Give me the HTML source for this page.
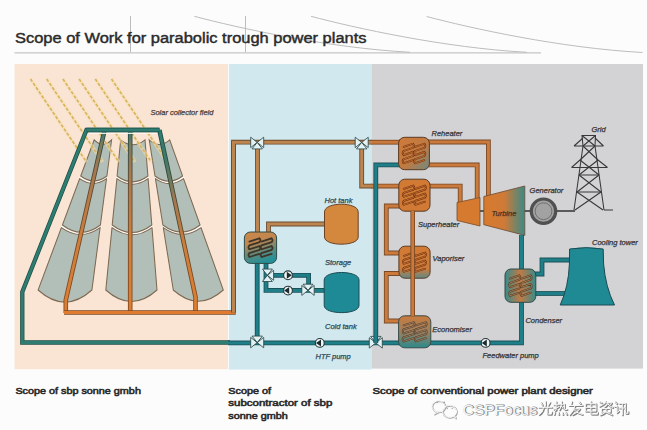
<!DOCTYPE html><html><head><meta charset="utf-8"><style>
html,body{margin:0;padding:0;background:#fcfcfc;}
body{width:647px;height:430px;overflow:hidden;position:relative;font-family:"Liberation Sans",sans-serif;}
svg{position:absolute;left:0;top:0;}
</style></head><body>
<svg width="647" height="430" viewBox="0 0 647 430" font-family="Liberation Sans, sans-serif">
<defs>
<linearGradient id="gHXa" x1="0.2" y1="0" x2="0.5" y2="1"><stop offset="0" stop-color="#cc884a"/><stop offset="0.35" stop-color="#c08650"/><stop offset="0.7" stop-color="#5a8a80"/><stop offset="1" stop-color="#229098"/></linearGradient>
<linearGradient id="gRe" x1="0" y1="0" x2="1" y2="1"><stop offset="0" stop-color="#cf7a38"/><stop offset="0.55" stop-color="#c07a42"/><stop offset="1" stop-color="#6f8a84"/></linearGradient>
<linearGradient id="gSup" x1="0" y1="0" x2="0" y2="1"><stop offset="0" stop-color="#d27a34"/><stop offset="1" stop-color="#d07a36"/></linearGradient>
<linearGradient id="gVap" x1="0" y1="0" x2="0" y2="1"><stop offset="0" stop-color="#d27a34"/><stop offset="0.7" stop-color="#cd7c3c"/><stop offset="1" stop-color="#5f8a86"/></linearGradient>
<linearGradient id="gEco" x1="0" y1="0" x2="0" y2="1"><stop offset="0" stop-color="#c97b3e"/><stop offset="0.5" stop-color="#9c8060"/><stop offset="1" stop-color="#2a8a8c"/></linearGradient>
<linearGradient id="gCon" x1="0" y1="0" x2="1" y2="0"><stop offset="0" stop-color="#3a8a8a"/><stop offset="0.5" stop-color="#c07a45"/><stop offset="1" stop-color="#3a8a8a"/></linearGradient>
<linearGradient id="gLP" x1="0" y1="0" x2="1" y2="0"><stop offset="0" stop-color="#d87a2e"/><stop offset="0.5" stop-color="#cf7a38"/><stop offset="1" stop-color="#3a8a86"/></linearGradient>
<linearGradient id="gCol1" gradientUnits="userSpaceOnUse" x1="0" y1="130" x2="0" y2="300"><stop offset="0" stop-color="#2a7a74"/><stop offset="0.08" stop-color="#7a7a5e"/><stop offset="0.25" stop-color="#a8784e"/><stop offset="0.65" stop-color="#d07e3a"/><stop offset="1" stop-color="#da7e34"/></linearGradient>
<linearGradient id="gCol1d" gradientUnits="userSpaceOnUse" x1="0" y1="130" x2="0" y2="300"><stop offset="0" stop-color="#1e4e4a"/><stop offset="0.3" stop-color="#5a4a36"/><stop offset="1" stop-color="#8a4a1c"/></linearGradient>
<linearGradient id="gCol3" gradientUnits="userSpaceOnUse" x1="0" y1="130" x2="0" y2="300"><stop offset="0" stop-color="#2e7d70"/><stop offset="0.18" stop-color="#3e7a6a"/><stop offset="0.4" stop-color="#a07850"/><stop offset="0.7" stop-color="#d07e3a"/><stop offset="1" stop-color="#da7e34"/></linearGradient>
<linearGradient id="gCol3d" gradientUnits="userSpaceOnUse" x1="0" y1="130" x2="0" y2="300"><stop offset="0" stop-color="#1e4e48"/><stop offset="0.3" stop-color="#3a4a3a"/><stop offset="1" stop-color="#8a4a1c"/></linearGradient>
</defs>

<g stroke="#bdbdbd" stroke-width="1" fill="none">
<line x1="14.5" y1="52.9" x2="541" y2="52.9" stroke="#c6c6c6" stroke-width="1.4"/>
<line x1="130.5" y1="16" x2="130.5" y2="52.5"/>
<line x1="245.5" y1="16" x2="245.5" y2="52.5"/>
<path d="M194.3,16.3 C237.60000000000002,27.8 327.6,47.8 410.1,52.3"/>
<path d="M311,16.3 C354.3,27.8 444.3,47.8 526.8,52.3"/>
<path d="M426.7,16.5 C470.0,28.0 560.0,48.0 642.5,52.5"/>
</g>
<text x="15" y="42.6" font-size="14" font-weight="normal" fill="#2a2a2a" stroke="#2a2a2a" stroke-width="0.42" textLength="351.5" lengthAdjust="spacingAndGlyphs">Scope of Work for parabolic trough power plants</text>
<rect x="14.5" y="64" width="214" height="305.2" fill="#fae5d5"/>
<rect x="228.5" y="64" width="143" height="305.6" fill="#d0e8ee"/>
<rect x="371.5" y="64" width="271.5" height="304.6" fill="#d3d3d6"/>
<rect x="228" y="64" width="1.1" height="306" fill="#f8fbf8"/>
<text x="150.5" y="115" font-size="7.45" font-style="italic" fill="#463c34" stroke="#463c34" stroke-width="0.25" text-anchor="start">Solar collector field</text>
<path d="M79.2,177.3 Q93.4,187.1 107.7,177.3" fill="none" stroke="#fffaf5" stroke-width="3"/>
<path d="M60.9,226.3 Q81.1,240.5 101.3,226.3" fill="none" stroke="#fffaf5" stroke-width="3"/>
<path d="M94.2,139.8 Q102.9,148.6 111.6,139.8 L106.9,176.0 Q93.8,185.9 80.7,176.0 Z" fill="#b2beb8" stroke="#7e6a52" stroke-width="1.05"/>
<path d="M79.7,178.6 Q93.1,188.2 106.5,178.6 L100.4,225.0 Q81.4,239.5 62.4,225.0 Z" fill="#b2beb8" stroke="#7e6a52" stroke-width="1.05"/>
<path d="M61.4,227.6 Q80.7,241.5 100.1,227.6 L91.9,290.0 Q65.0,314.2 38.1,290.0 Z" fill="#b2beb8" stroke="#7e6a52" stroke-width="1.05"/>
<path d="M116.0,177.3 Q132.5,188.8 149.0,177.3" fill="none" stroke="#fffaf5" stroke-width="3"/>
<path d="M111.1,226.3 Q132.0,241.0 152.9,226.3" fill="none" stroke="#fffaf5" stroke-width="3"/>
<path d="M120.7,139.8 Q132.8,149.7 145.0,139.8 L147.9,176.0 Q132.5,187.7 117.1,176.0 Z" fill="#b2beb8" stroke="#7e6a52" stroke-width="1.05"/>
<path d="M116.9,178.6 Q132.5,189.8 148.1,178.6 L151.8,225.0 Q132.0,240.0 112.2,225.0 Z" fill="#b2beb8" stroke="#7e6a52" stroke-width="1.05"/>
<path d="M112.0,227.6 Q132.0,242.0 152.0,227.6 L157.0,290.0 Q131.4,313.0 105.8,290.0 Z" fill="#b2beb8" stroke="#7e6a52" stroke-width="1.05"/>
<path d="M154.2,177.3 Q169.1,187.6 184.1,177.3" fill="none" stroke="#fffaf5" stroke-width="3"/>
<path d="M162.1,226.3 Q181.8,240.2 201.6,226.3" fill="none" stroke="#fffaf5" stroke-width="3"/>
<path d="M149.2,139.8 Q159.4,149.1 169.7,139.8 L182.6,176.0 Q168.8,186.5 155.0,176.0 Z" fill="#b2beb8" stroke="#7e6a52" stroke-width="1.05"/>
<path d="M155.4,178.6 Q169.5,188.7 183.5,178.6 L200.1,225.0 Q181.5,239.1 162.9,225.0 Z" fill="#b2beb8" stroke="#7e6a52" stroke-width="1.05"/>
<path d="M163.3,227.6 Q182.2,241.2 201.0,227.6 L223.3,290.0 Q198.3,312.5 173.3,290.0 Z" fill="#b2beb8" stroke="#7e6a52" stroke-width="1.05"/>
<g stroke="#f4dfae" stroke-width="3.4" fill="none" opacity="0.6">
<line x1="30.5" y1="79" x2="86.5" y2="162"/>
<line x1="46.7" y1="79" x2="102.7" y2="162"/>
<line x1="62.9" y1="79" x2="118.9" y2="162"/>
<line x1="79.1" y1="79" x2="135.1" y2="162"/>
<line x1="95.3" y1="79" x2="151.3" y2="162"/>
<line x1="111.5" y1="79" x2="167.5" y2="162"/>
</g>
<g stroke="#d9b25c" stroke-width="1.6" stroke-dasharray="3.2 1.8" fill="none" opacity="1">
<line x1="30.5" y1="79" x2="86.5" y2="162"/>
<line x1="46.7" y1="79" x2="102.7" y2="162"/>
<line x1="62.9" y1="79" x2="118.9" y2="162"/>
<line x1="79.1" y1="79" x2="135.1" y2="162"/>
<line x1="95.3" y1="79" x2="151.3" y2="162"/>
<line x1="111.5" y1="79" x2="167.5" y2="162"/>
</g>
<path d="M230,342.5 L22.3,342.5 L22.3,292 L86.5,130 L159.4,130" fill="none" stroke="#1e4e48" stroke-width="4.3" stroke-linejoin="miter" stroke-linecap="butt"/>
<path d="M230,342.5 L22.3,342.5 L22.3,292 L86.5,130 L159.4,130" fill="none" stroke="#2e7d70" stroke-width="2.8" stroke-linejoin="miter" stroke-linecap="butt"/>
<path d="M104.6,130 L65.8,300 L65.8,313" fill="none" stroke="url(#gCol1d)" stroke-width="4.6"/>
<path d="M104.6,130 L65.8,300 L65.8,313" fill="none" stroke="url(#gCol1)" stroke-width="2.8"/>
<path d="M130.2,130 L130.2,313" fill="none" stroke="url(#gCol1d)" stroke-width="4.6"/>
<path d="M130.2,130 L130.2,313" fill="none" stroke="url(#gCol1)" stroke-width="2.8"/>
<path d="M159.4,130 L195.5,297 L195.5,313" fill="none" stroke="url(#gCol3d)" stroke-width="4.6"/>
<path d="M159.4,130 L195.5,297 L195.5,313" fill="none" stroke="url(#gCol3)" stroke-width="2.8"/>
<path d="M86.5,130 L159.4,130" fill="none" stroke="#1e4e48" stroke-width="4.3" stroke-linejoin="miter" stroke-linecap="butt"/>
<path d="M86.5,130 L159.4,130" fill="none" stroke="#2e7d70" stroke-width="2.8" stroke-linejoin="miter" stroke-linecap="butt"/>
<path d="M20.5,342 M88.8,133.4 L157.2,133.4" fill="none" stroke="#fff8f2" stroke-width="1.3" opacity="0.9"/>
<path d="M64,312.5 L233.5,312.5 L233.5,142" fill="none" stroke="#7a4a26" stroke-width="4.4" stroke-linejoin="miter" stroke-linecap="butt"/>
<path d="M64,312.5 L233.5,312.5 L233.5,142" fill="none" stroke="#e07a2e" stroke-width="2.8" stroke-linejoin="miter" stroke-linecap="butt"/>
<path d="M399,142.2 L371.5,142.2" fill="none" stroke="#7a4a26" stroke-width="4.8" stroke-linejoin="miter" stroke-linecap="butt"/>
<path d="M399,142.2 L371.5,142.2" fill="none" stroke="#cc7a3c" stroke-width="3.0" stroke-linejoin="miter" stroke-linecap="butt"/>
<path d="M233.5,312.5 L233.5,142.2 L372,142.2" fill="none" stroke="#6a4a2c" stroke-width="4.8" stroke-linejoin="miter" stroke-linecap="butt"/>
<path d="M233.5,312.5 L233.5,142.2 L372,142.2" fill="none" stroke="#bd8550" stroke-width="3.0" stroke-linejoin="miter" stroke-linecap="butt"/>
<path d="M257.5,142 L257.5,234" fill="none" stroke="#6a4a2c" stroke-width="4.8" stroke-linejoin="miter" stroke-linecap="butt"/>
<path d="M257.5,142 L257.5,234" fill="none" stroke="#bd8550" stroke-width="3.0" stroke-linejoin="miter" stroke-linecap="butt"/>
<path d="M268.5,234 L268.5,224 L325,224" fill="none" stroke="#6a4a2c" stroke-width="4.8" stroke-linejoin="miter" stroke-linecap="butt"/>
<path d="M268.5,234 L268.5,224 L325,224" fill="none" stroke="#bd8550" stroke-width="3.0" stroke-linejoin="miter" stroke-linecap="butt"/>
<path d="M324.5,212 C324.5,201.6 358.2,201.6 358.2,212 L358.2,237 C358.2,246.6 324.5,246.6 324.5,237 Z" fill="#d4883e" stroke="#6a4226" stroke-width="1"/>
<text x="324.5" y="202.5" font-size="7.5" font-style="italic" fill="#2e4a58" stroke="#2e4a58" stroke-width="0.25" text-anchor="start">Hot tank</text>
<path d="M228,342.9 L521.5,342.9 L521.5,300" fill="none" stroke="#1a5258" stroke-width="4.8" stroke-linejoin="miter" stroke-linecap="butt"/>
<path d="M228,342.9 L521.5,342.9 L521.5,300" fill="none" stroke="#1f7f88" stroke-width="3.0" stroke-linejoin="miter" stroke-linecap="butt"/>
<path d="M257.2,262 L257.2,342.9" fill="none" stroke="#1a5258" stroke-width="4.8" stroke-linejoin="miter" stroke-linecap="butt"/>
<path d="M257.2,262 L257.2,342.9" fill="none" stroke="#1f7f88" stroke-width="3.0" stroke-linejoin="miter" stroke-linecap="butt"/>
<path d="M266,262 L266,290.4 L324.5,290.4" fill="none" stroke="#1a5258" stroke-width="4.8" stroke-linejoin="miter" stroke-linecap="butt"/>
<path d="M266,262 L266,290.4 L324.5,290.4" fill="none" stroke="#1f7f88" stroke-width="3.0" stroke-linejoin="miter" stroke-linecap="butt"/>
<path d="M266,275.3 L308.6,275.3 L308.6,290.4" fill="none" stroke="#1a5258" stroke-width="4.8" stroke-linejoin="miter" stroke-linecap="butt"/>
<path d="M266,275.3 L308.6,275.3 L308.6,290.4" fill="none" stroke="#1f7f88" stroke-width="3.0" stroke-linejoin="miter" stroke-linecap="butt"/>
<rect x="244.4" y="232" width="32.2" height="31.4" rx="6" ry="6" fill="url(#gHXa)" stroke="#2e4a48" stroke-width="1"/>
<path d="M249.4,241.6 L259.5,238.4 Q261.3,240.3 259.5,242.2 L249.4,245.4 Q247.6,247.4 249.4,249.3 L259.5,246.1 Q261.3,248.0 259.5,249.9 L249.4,253.1 Q247.6,255.1 249.4,257.0 L259.5,253.8" fill="none" stroke="#3e3628" stroke-width="1.8" stroke-linecap="round"/>
<path d="M261.5,241.6 L271.6,238.4 Q273.4,240.3 271.6,242.2 L261.5,245.4 Q259.7,247.4 261.5,249.3 L271.6,246.1 Q273.4,248.0 271.6,249.9 L261.5,253.1 Q259.7,255.1 261.5,257.0 L271.6,253.8" fill="none" stroke="#3e3628" stroke-width="1.8" stroke-linecap="round"/>
<path d="M324.2,280 C324.2,270 359,270 359,280 L359,305.5 C359,315 324.2,315 324.2,305.5 Z" fill="#1e8a96" stroke="#1a4a52" stroke-width="1"/>
<text x="325" y="265" font-size="7.5" font-style="italic" fill="#2e4a58" stroke="#2e4a58" stroke-width="0.25" text-anchor="start">Storage</text>
<text x="325" y="329" font-size="7.5" font-style="italic" fill="#2e4a58" stroke="#2e4a58" stroke-width="0.25" text-anchor="start">Cold tank</text>
<text x="315.5" y="358.5" font-size="7.5" font-style="italic" fill="#2e4a58" stroke="#2e4a58" stroke-width="0.25" text-anchor="start">HTF pump</text>
<path d="M262.44,269.1 L267.4,275.3 L272.35999999999996,269.1 Z M262.44,281.5 L267.4,275.3 L272.35999999999996,281.5 Z M273.59999999999997,270.34000000000003 L267.4,275.3 L273.59999999999997,280.26 Z" fill="#e2f2f4" stroke="#27403f" stroke-width="0.8" stroke-linejoin="miter"/>
<circle cx="288" cy="275.3" r="4.4" fill="#f2f6f6" stroke="#27383a" stroke-width="1.1"/>
<path d="M291.79999999999995,275.3 L286.8,271.8 L286.8,278.8 Z" fill="#1c2c2e"/>
<circle cx="288" cy="290.6" r="4.4" fill="#f2f6f6" stroke="#27383a" stroke-width="1.1"/>
<path d="M284.20000000000005,290.6 L289.2,287.1 L289.2,294.1 Z" fill="#1c2c2e"/>
<path d="M301.8,285.44 L308,290.4 L301.8,295.35999999999996 Z M314.2,285.44 L308,290.4 L314.2,295.35999999999996 Z M303.04,284.2 L308,290.4 L312.96,284.2 Z" fill="#e2f2f4" stroke="#27403f" stroke-width="0.8" stroke-linejoin="miter"/>
<path d="M250.7,337.40000000000003 L257.2,342.6 L250.7,347.8 Z M263.7,337.40000000000003 L257.2,342.6 L263.7,347.8 Z M252.0,336.1 L257.2,342.6 L262.4,336.1 Z" fill="#e2f2f4" stroke="#27403f" stroke-width="0.8" stroke-linejoin="miter"/>
<circle cx="319.8" cy="342.9" r="4.4" fill="#f2f6f6" stroke="#27383a" stroke-width="1.1"/>
<path d="M316.00000000000006,342.9 L321.0,339.4 L321.0,346.4 Z" fill="#1c2c2e"/>
<path d="M369.3,337.7 L375.8,342.9 L369.3,348.09999999999997 Z M382.3,337.7 L375.8,342.9 L382.3,348.09999999999997 Z M370.6,336.4 L375.8,342.9 L381.0,336.4 Z" fill="#e2f2f4" stroke="#27403f" stroke-width="0.8" stroke-linejoin="miter"/>
<path d="M250.7,137.20000000000002 L257.2,142.4 L250.7,147.6 Z M263.7,137.20000000000002 L257.2,142.4 L263.7,147.6 Z" fill="#e2f2f4" stroke="#27403f" stroke-width="0.8" stroke-linejoin="miter"/>
<path d="M252.0,148.9 L257.2,142.4 L262.4,148.9 Z" fill="#e2f2f4" stroke="#27403f" stroke-width="0.8"/>
<path d="M371,186.1 L460.2,186.1 L460.2,204" fill="none" stroke="#7a4a26" stroke-width="4.8" stroke-linejoin="miter" stroke-linecap="butt"/>
<path d="M371,186.1 L460.2,186.1 L460.2,204" fill="none" stroke="#cc7a3c" stroke-width="3.0" stroke-linejoin="miter" stroke-linecap="butt"/>
<path d="M361.7,142.2 L361.7,186.1 L372,186.1" fill="none" stroke="#6a4a2c" stroke-width="4.8" stroke-linejoin="miter" stroke-linecap="butt"/>
<path d="M361.7,142.2 L361.7,186.1 L372,186.1" fill="none" stroke="#bd8550" stroke-width="3.0" stroke-linejoin="miter" stroke-linecap="butt"/>
<path d="M399,142 L488.4,142 L488.4,197" fill="none" stroke="#7a4a26" stroke-width="4.8" stroke-linejoin="miter" stroke-linecap="butt"/>
<path d="M399,142 L488.4,142 L488.4,197" fill="none" stroke="#cc7a3c" stroke-width="3.0" stroke-linejoin="miter" stroke-linecap="butt"/>
<path d="M429,164.9 L477.2,164.9 L477.2,198" fill="none" stroke="#7a4a26" stroke-width="4.8" stroke-linejoin="miter" stroke-linecap="butt"/>
<path d="M429,164.9 L477.2,164.9 L477.2,198" fill="none" stroke="#cc7a3c" stroke-width="3.0" stroke-linejoin="miter" stroke-linecap="butt"/>
<path d="M400,164.9 L375.8,164.9 L375.8,342.9" fill="none" stroke="#1a5258" stroke-width="4.8" stroke-linejoin="miter" stroke-linecap="butt"/>
<path d="M400,164.9 L375.8,164.9 L375.8,342.9" fill="none" stroke="#1f7f88" stroke-width="3.0" stroke-linejoin="miter" stroke-linecap="butt"/>
<path d="M400,206 L386.3,206 L386.3,253 L400,253" fill="none" stroke="#7a4a26" stroke-width="4.8" stroke-linejoin="miter" stroke-linecap="butt"/>
<path d="M400,206 L386.3,206 L386.3,253 L400,253" fill="none" stroke="#cc7a3c" stroke-width="3.0" stroke-linejoin="miter" stroke-linecap="butt"/>
<path d="M400,273.5 L386.3,273.5 L386.3,321 L400,321" fill="none" stroke="#7a4a26" stroke-width="4.8" stroke-linejoin="miter" stroke-linecap="butt"/>
<path d="M400,273.5 L386.3,273.5 L386.3,321 L400,321" fill="none" stroke="#cc7a3c" stroke-width="3.0" stroke-linejoin="miter" stroke-linecap="butt"/>
<path d="M355.2,137.20000000000002 L361.7,142.4 L355.2,147.6 Z M368.2,137.20000000000002 L361.7,142.4 L368.2,147.6 Z" fill="#e2f2f4" stroke="#27403f" stroke-width="0.8" stroke-linejoin="miter"/>
<path d="M356.5,148.9 L361.7,142.4 L366.9,148.9 Z" fill="#e2f2f4" stroke="#27403f" stroke-width="0.8"/>
<rect x="398.6" y="137.3" width="30.8" height="32.4" rx="6" ry="6" fill="url(#gRe)" stroke="#5a3a22" stroke-width="1"/>
<path d="M403.6,146.9 L413.0,143.7 Q414.8,145.8 413.0,147.8 L403.6,151.0 Q401.8,153.1 403.6,155.1 L413.0,151.9 Q414.8,154.0 413.0,156.0 L403.6,159.2 Q401.8,161.2 403.6,163.3 L413.0,160.1" fill="none" stroke="#6a2e0c" stroke-width="1.8" stroke-linecap="round"/>
<path d="M403.6,146.9 L413.0,143.7 Q414.8,145.8 413.0,147.8 L403.6,151.0 Q401.8,153.1 403.6,155.1 L413.0,151.9 Q414.8,154.0 413.0,156.0 L403.6,159.2 Q401.8,161.2 403.6,163.3 L413.0,160.1" fill="none" stroke="#dc8440" stroke-width="0.7" stroke-linecap="round"/>
<path d="M415.0,146.9 L424.4,143.7 Q426.2,145.8 424.4,147.8 L415.0,151.0 Q413.2,153.1 415.0,155.1 L424.4,151.9 Q426.2,154.0 424.4,156.0 L415.0,159.2 Q413.2,161.2 415.0,163.3 L424.4,160.1" fill="none" stroke="#6a2e0c" stroke-width="1.8" stroke-linecap="round"/>
<path d="M415.0,146.9 L424.4,143.7 Q426.2,145.8 424.4,147.8 L415.0,151.0 Q413.2,153.1 415.0,155.1 L424.4,151.9 Q426.2,154.0 424.4,156.0 L415.0,159.2 Q413.2,161.2 415.0,163.3 L424.4,160.1" fill="none" stroke="#dc8440" stroke-width="0.7" stroke-linecap="round"/>
<rect x="398.8" y="179.2" width="31.2" height="32" rx="6" ry="6" fill="url(#gSup)" stroke="#5a3a22" stroke-width="1"/>
<path d="M403.8,188.8 L413.4,185.6 Q415.2,187.6 413.4,189.6 L403.8,192.8 Q402.0,194.8 403.8,196.8 L413.4,193.6 Q415.2,195.6 413.4,197.6 L403.8,200.8 Q402.0,202.8 403.8,204.8 L413.4,201.6" fill="none" stroke="#6a2e0c" stroke-width="1.8" stroke-linecap="round"/>
<path d="M403.8,188.8 L413.4,185.6 Q415.2,187.6 413.4,189.6 L403.8,192.8 Q402.0,194.8 403.8,196.8 L413.4,193.6 Q415.2,195.6 413.4,197.6 L403.8,200.8 Q402.0,202.8 403.8,204.8 L413.4,201.6" fill="none" stroke="#dc8440" stroke-width="0.7" stroke-linecap="round"/>
<path d="M415.4,188.8 L425.0,185.6 Q426.8,187.6 425.0,189.6 L415.4,192.8 Q413.6,194.8 415.4,196.8 L425.0,193.6 Q426.8,195.6 425.0,197.6 L415.4,200.8 Q413.6,202.8 415.4,204.8 L425.0,201.6" fill="none" stroke="#6a2e0c" stroke-width="1.8" stroke-linecap="round"/>
<path d="M415.4,188.8 L425.0,185.6 Q426.8,187.6 425.0,189.6 L415.4,192.8 Q413.6,194.8 415.4,196.8 L425.0,193.6 Q426.8,195.6 425.0,197.6 L415.4,200.8 Q413.6,202.8 415.4,204.8 L425.0,201.6" fill="none" stroke="#dc8440" stroke-width="0.7" stroke-linecap="round"/>
<rect x="398.9" y="246.2" width="31.2" height="32" rx="6" ry="6" fill="url(#gVap)" stroke="#5a3a22" stroke-width="1"/>
<path d="M403.9,255.8 L413.5,252.6 Q415.3,254.6 413.5,256.6 L403.9,259.8 Q402.1,261.8 403.9,263.8 L413.5,260.6 Q415.3,262.6 413.5,264.6 L403.9,267.8 Q402.1,269.8 403.9,271.8 L413.5,268.6" fill="none" stroke="#6a2e0c" stroke-width="1.8" stroke-linecap="round"/>
<path d="M403.9,255.8 L413.5,252.6 Q415.3,254.6 413.5,256.6 L403.9,259.8 Q402.1,261.8 403.9,263.8 L413.5,260.6 Q415.3,262.6 413.5,264.6 L403.9,267.8 Q402.1,269.8 403.9,271.8 L413.5,268.6" fill="none" stroke="#dc8440" stroke-width="0.7" stroke-linecap="round"/>
<path d="M415.5,255.8 L425.1,252.6 Q426.9,254.6 425.1,256.6 L415.5,259.8 Q413.7,261.8 415.5,263.8 L425.1,260.6 Q426.9,262.6 425.1,264.6 L415.5,267.8 Q413.7,269.8 415.5,271.8 L425.1,268.6" fill="none" stroke="#6a2e0c" stroke-width="1.8" stroke-linecap="round"/>
<path d="M415.5,255.8 L425.1,252.6 Q426.9,254.6 425.1,256.6 L415.5,259.8 Q413.7,261.8 415.5,263.8 L425.1,260.6 Q426.9,262.6 425.1,264.6 L415.5,267.8 Q413.7,269.8 415.5,271.8 L425.1,268.6" fill="none" stroke="#dc8440" stroke-width="0.7" stroke-linecap="round"/>
<rect x="398.6" y="315.8" width="32.2" height="32" rx="6" ry="6" fill="url(#gEco)" stroke="#3a4a46" stroke-width="1"/>
<path d="M403.6,325.4 L413.7,322.2 Q415.5,324.2 413.7,326.2 L403.6,329.4 Q401.8,331.4 403.6,333.4 L413.7,330.2 Q415.5,332.2 413.7,334.2 L403.6,337.4 Q401.8,339.4 403.6,341.4 L413.7,338.2" fill="none" stroke="#4a3a2a" stroke-width="1.8" stroke-linecap="round"/>
<path d="M403.6,325.4 L413.7,322.2 Q415.5,324.2 413.7,326.2 L403.6,329.4 Q401.8,331.4 403.6,333.4 L413.7,330.2 Q415.5,332.2 413.7,334.2 L403.6,337.4 Q401.8,339.4 403.6,341.4 L413.7,338.2" fill="none" stroke="#c0906a" stroke-width="0.7" stroke-linecap="round"/>
<path d="M415.7,325.4 L425.8,322.2 Q427.6,324.2 425.8,326.2 L415.7,329.4 Q413.9,331.4 415.7,333.4 L425.8,330.2 Q427.6,332.2 425.8,334.2 L415.7,337.4 Q413.9,339.4 415.7,341.4 L425.8,338.2" fill="none" stroke="#4a3a2a" stroke-width="1.8" stroke-linecap="round"/>
<path d="M415.7,325.4 L425.8,322.2 Q427.6,324.2 425.8,326.2 L415.7,329.4 Q413.9,331.4 415.7,333.4 L425.8,330.2 Q427.6,332.2 425.8,334.2 L415.7,337.4 Q413.9,339.4 415.7,341.4 L425.8,338.2" fill="none" stroke="#c0906a" stroke-width="0.7" stroke-linecap="round"/>
<path d="M412.7,211 L412.7,316" fill="none" stroke="#7a4a26" stroke-width="4.6" stroke-linejoin="miter" stroke-linecap="butt"/>
<path d="M412.7,211 L412.7,316" fill="none" stroke="#cc7a3c" stroke-width="2.8" stroke-linejoin="miter" stroke-linecap="butt"/>
<text x="431.5" y="135.5" font-size="7.5" font-style="italic" fill="#333333" stroke="#333333" stroke-width="0.25" text-anchor="start">Reheater</text>
<text x="418" y="227" font-size="7.5" font-style="italic" fill="#333333" stroke="#333333" stroke-width="0.25" text-anchor="start">Superheater</text>
<text x="432.5" y="261" font-size="7.5" font-style="italic" fill="#333333" stroke="#333333" stroke-width="0.25" text-anchor="start">Vaporiser</text>
<text x="432.3" y="331.5" font-size="7.5" font-style="italic" fill="#333333" stroke="#333333" stroke-width="0.25" text-anchor="start">Economiser</text>
<text x="482.5" y="358" font-size="7.5" font-style="italic" fill="#333333" stroke="#333333" stroke-width="0.25" text-anchor="start">Feedwater pump</text>
<circle cx="485.6" cy="342.9" r="4.4" fill="#f2f6f6" stroke="#27383a" stroke-width="1.1"/>
<path d="M481.80000000000007,342.9 L486.8,339.4 L486.8,346.4 Z" fill="#1c2c2e"/>
<line x1="470" y1="211" x2="575" y2="211" stroke="#5a5a5a" stroke-width="2"/>
<path d="M457,202.5 L480,197.5 L480,226 L457,220.5 Z" fill="#d67a30" stroke="#7a4a26" stroke-width="0.8"/>
<path d="M483.8,196.5 L524.8,186 L524.8,235.4 L483.8,224.7 Z" fill="url(#gLP)" stroke="#6a4a36" stroke-width="0.8"/>
<text x="491.5" y="215.5" font-size="7.5" font-style="italic" fill="#4a3020" stroke="#4a3020" stroke-width="0.25" text-anchor="start">Turbine</text>
<circle cx="543.5" cy="211.2" r="12.2" fill="#a2a2a2" stroke="#505050" stroke-width="3.2"/>
<circle cx="543.5" cy="211.2" r="8.4" fill="none" stroke="#6a6a6a" stroke-width="0.9"/>
<text x="529.6" y="192.5" font-size="7.5" font-style="italic" fill="#333333" stroke="#333333" stroke-width="0.25" text-anchor="start">Generator</text>
<path d="M521.5,235 L521.5,270" fill="none" stroke="#1a5258" stroke-width="4.8" stroke-linejoin="miter" stroke-linecap="butt"/>
<path d="M521.5,235 L521.5,270" fill="none" stroke="#1f7f88" stroke-width="3.0" stroke-linejoin="miter" stroke-linecap="butt"/>
<path d="M535,274 L542,274 L542,260 L572,260" fill="none" stroke="#1a5258" stroke-width="4.8" stroke-linejoin="miter" stroke-linecap="butt"/>
<path d="M535,274 L542,274 L542,260 L572,260" fill="none" stroke="#1f7f88" stroke-width="3.0" stroke-linejoin="miter" stroke-linecap="butt"/>
<path d="M535,293.5 L565,293.5" fill="none" stroke="#1a5258" stroke-width="4.8" stroke-linejoin="miter" stroke-linecap="butt"/>
<path d="M535,293.5 L565,293.5" fill="none" stroke="#1f7f88" stroke-width="3.0" stroke-linejoin="miter" stroke-linecap="butt"/>
<rect x="505" y="269" width="30.8" height="33.3" rx="6" ry="6" fill="url(#gCon)" stroke="#2e4a48" stroke-width="1"/>
<path d="M510.0,278.6 L519.4,275.4 Q521.2,277.6 519.4,279.7 L510.0,282.9 Q508.2,285.1 510.0,287.2 L519.4,284.0 Q521.2,286.2 519.4,288.4 L510.0,291.6 Q508.2,293.7 510.0,295.9 L519.4,292.7" fill="none" stroke="#4a3a2a" stroke-width="1.8" stroke-linecap="round"/>
<path d="M510.0,278.6 L519.4,275.4 Q521.2,277.6 519.4,279.7 L510.0,282.9 Q508.2,285.1 510.0,287.2 L519.4,284.0 Q521.2,286.2 519.4,288.4 L510.0,291.6 Q508.2,293.7 510.0,295.9 L519.4,292.7" fill="none" stroke="#d08a50" stroke-width="0.7" stroke-linecap="round"/>
<path d="M521.4,278.6 L530.8,275.4 Q532.6,277.6 530.8,279.7 L521.4,282.9 Q519.6,285.1 521.4,287.2 L530.8,284.0 Q532.6,286.2 530.8,288.4 L521.4,291.6 Q519.6,293.7 521.4,295.9 L530.8,292.7" fill="none" stroke="#4a3a2a" stroke-width="1.8" stroke-linecap="round"/>
<path d="M521.4,278.6 L530.8,275.4 Q532.6,277.6 530.8,279.7 L521.4,282.9 Q519.6,285.1 521.4,287.2 L530.8,284.0 Q532.6,286.2 530.8,288.4 L521.4,291.6 Q519.6,293.7 521.4,295.9 L530.8,292.7" fill="none" stroke="#d08a50" stroke-width="0.7" stroke-linecap="round"/>
<path d="M569.6,249 Q586.3,246.2 603.2,249 L603.6,264 Q605.5,287 614.5,305 L560.2,305 Q568.5,287 569.4,264 Z" fill="#1f8a94" stroke="#1a4a52" stroke-width="1"/>
<text x="592" y="245" font-size="7.5" font-style="italic" fill="#333333" stroke="#333333" stroke-width="0.25" text-anchor="start">Cooling tower</text>
<text x="525.4" y="323" font-size="7.5" font-style="italic" fill="#333333" stroke="#333333" stroke-width="0.25" text-anchor="start">Condenser</text>
<g stroke="#383838" stroke-width="1.05" fill="none">
<path d="M574,210 L583,146 L582,135.5 L595.5,135.5 L595,146 L604,210"/>
<path d="M574,146 L603.5,146 M571.5,167.5 L607.5,167.5 M574,146 L583,138 M603.5,146 L595,138 M571.5,167.5 L580,160 M607.5,167.5 L598,160"/>
<path d="M582,135.5 L595,146 M595.5,135.5 L583,146 M583,146 L598,160 M595,146 L580,160 M580,160 L599,175 M598,160 L579,175 M579,175 L601,192 M599,175 L577,192 M577,192 L603,210 M601,192 L575,210"/>
<path d="M579,175 L599,175 M577,192 L601,192 M604,210 L613,210"/>
</g>
<text x="591.5" y="131.5" font-size="7.5" font-style="italic" fill="#333333" stroke="#333333" stroke-width="0.25" text-anchor="start">Grid</text>
<text x="15.4" y="394.1" font-size="8.9" font-weight="normal" fill="#2a2a2a" stroke="#2a2a2a" stroke-width="0.55" textLength="125.5" lengthAdjust="spacingAndGlyphs">Scope of sbp sonne gmbh</text>
<text x="228.3" y="394.1" font-size="8.9" font-weight="normal" fill="#2a2a2a" stroke="#2a2a2a" stroke-width="0.55" textLength="42.7" lengthAdjust="spacingAndGlyphs">Scope of</text>
<text x="228.3" y="406.3" font-size="8.9" font-weight="normal" fill="#2a2a2a" stroke="#2a2a2a" stroke-width="0.55" textLength="104" lengthAdjust="spacingAndGlyphs">subcontractor of sbp</text>
<text x="228.3" y="418.6" font-size="8.9" font-weight="normal" fill="#2a2a2a" stroke="#2a2a2a" stroke-width="0.55" textLength="59.4" lengthAdjust="spacingAndGlyphs">sonne gmbh</text>
<text x="372.4" y="394.1" font-size="8.9" font-weight="normal" fill="#2a2a2a" stroke="#2a2a2a" stroke-width="0.55" textLength="220.5" lengthAdjust="spacingAndGlyphs">Scope of conventional power plant designer</text>
<g transform="translate(0.7,0.7)" fill="none" stroke="#858585" stroke-width="1.9" stroke-linecap="round" stroke-linejoin="round">
<path transform="translate(538.2,401) scale(0.9,0.9)" d="M8,0.5 L8,5.5 M3,1.5 L4.8,4.8 M13,1.5 L11.2,4.8 M0.8,7 L15.2,7 M6,7 Q5.8,12 1,15.2 M10,7 L10,13.8 Q10,14.6 11,14.6 L14.5,14.6 L15,12"/>
<path transform="translate(553.4000000000001,401) scale(0.9,0.9)" d="M0.5,4.2 L5.5,4.2 M3,0.8 L3,10 L2,10.6 M0.5,9.2 L6,6.4 M6.5,3.6 L12.2,3.6 Q12,9 13,9.6 L15,9.4 M9,0.8 Q9.5,6 6.8,9.8 M8.8,5.8 L11,7.8 M1.5,12.6 L1,15 M5.5,12.8 L6,15 M9.8,12.8 L10.6,15 M13.6,12.6 L15,15"/>
<path transform="translate(568.6,401) scale(0.9,0.9)" d="M3.5,0.8 L2.4,4.8 M0.8,5 L15.2,5 M11.6,1 L13.4,3.2 M7.2,5 Q6,11 1.5,15.2 M5.4,8.8 L12.4,8.8 Q10,13 4.6,15.2 M6.5,10.2 Q10,14 15.2,15"/>
<path transform="translate(583.8000000000001,401) scale(0.9,0.9)" d="M2,3 L13.5,3 L13.5,11.2 L2,11.2 Z M2,7.1 L13.5,7.1 M7.8,0.4 L7.8,13.6 Q7.8,14.6 9,14.6 L15,14.6 L15.2,12.6"/>
<path transform="translate(599.0,401) scale(0.9,0.9)" d="M1,0.8 L3.2,2.2 M0.8,6 L4,4.2 M7,0.4 L5.6,3.4 M6.4,2 L14,2 L12.8,4 M10,2.4 Q9.2,5 5.6,7.2 M10,3.4 Q11.6,6 15.2,7.2 M3,8.4 L12.6,8.4 L12.6,12.4 L3,12.4 Z M7.8,9 L7.8,12.4 M6.4,13 Q5,14.6 1.6,15.4 M9.4,13 Q12,14.2 14.4,15.4"/>
<path transform="translate(614.2,401) scale(0.9,0.9)" d="M1,0.8 L3,3 M0.6,6 L3.2,6 L3.2,13 L5,11.4 M6,2.6 L12.4,2.6 Q12.2,12.8 13.2,13.8 L15.2,13.8 L15.4,11.6 M9,2.6 L9,15.2 M6,7.8 L11.6,7.8"/>
</g>
<g transform="translate(0,0)" fill="none" stroke="#f8f8f8" stroke-width="1.1" stroke-linecap="round" stroke-linejoin="round">
<path transform="translate(538.2,401) scale(0.9,0.9)" d="M8,0.5 L8,5.5 M3,1.5 L4.8,4.8 M13,1.5 L11.2,4.8 M0.8,7 L15.2,7 M6,7 Q5.8,12 1,15.2 M10,7 L10,13.8 Q10,14.6 11,14.6 L14.5,14.6 L15,12"/>
<path transform="translate(553.4000000000001,401) scale(0.9,0.9)" d="M0.5,4.2 L5.5,4.2 M3,0.8 L3,10 L2,10.6 M0.5,9.2 L6,6.4 M6.5,3.6 L12.2,3.6 Q12,9 13,9.6 L15,9.4 M9,0.8 Q9.5,6 6.8,9.8 M8.8,5.8 L11,7.8 M1.5,12.6 L1,15 M5.5,12.8 L6,15 M9.8,12.8 L10.6,15 M13.6,12.6 L15,15"/>
<path transform="translate(568.6,401) scale(0.9,0.9)" d="M3.5,0.8 L2.4,4.8 M0.8,5 L15.2,5 M11.6,1 L13.4,3.2 M7.2,5 Q6,11 1.5,15.2 M5.4,8.8 L12.4,8.8 Q10,13 4.6,15.2 M6.5,10.2 Q10,14 15.2,15"/>
<path transform="translate(583.8000000000001,401) scale(0.9,0.9)" d="M2,3 L13.5,3 L13.5,11.2 L2,11.2 Z M2,7.1 L13.5,7.1 M7.8,0.4 L7.8,13.6 Q7.8,14.6 9,14.6 L15,14.6 L15.2,12.6"/>
<path transform="translate(599.0,401) scale(0.9,0.9)" d="M1,0.8 L3.2,2.2 M0.8,6 L4,4.2 M7,0.4 L5.6,3.4 M6.4,2 L14,2 L12.8,4 M10,2.4 Q9.2,5 5.6,7.2 M10,3.4 Q11.6,6 15.2,7.2 M3,8.4 L12.6,8.4 L12.6,12.4 L3,12.4 Z M7.8,9 L7.8,12.4 M6.4,13 Q5,14.6 1.6,15.4 M9.4,13 Q12,14.2 14.4,15.4"/>
<path transform="translate(614.2,401) scale(0.9,0.9)" d="M1,0.8 L3,3 M0.6,6 L3.2,6 L3.2,13 L5,11.4 M6,2.6 L12.4,2.6 Q12.2,12.8 13.2,13.8 L15.2,13.8 L15.4,11.6 M9,2.6 L9,15.2 M6,7.8 L11.6,7.8"/>
</g>
<g transform="translate(0.6,0.6)" fill="none" stroke="#a6a6a6" stroke-width="1.5" stroke-linecap="round" stroke-linejoin="round">
<ellipse cx="438.6" cy="406.4" rx="6.6" ry="5.6"/>
<path d="M435.5,411.2 L434.2,414.2 L438,412"/>
<ellipse cx="449.6" cy="411.4" rx="7" ry="6"/>
<path d="M453.6,416.4 L455.6,418.2 L454.6,415.4"/>
</g>
<g transform="translate(0,0)" fill="none" stroke="#f8f8f8" stroke-width="1.0" stroke-linecap="round" stroke-linejoin="round">
<ellipse cx="438.6" cy="406.4" rx="6.6" ry="5.6"/>
<path d="M435.5,411.2 L434.2,414.2 L438,412"/>
<ellipse cx="449.6" cy="411.4" rx="7" ry="6"/>
<path d="M453.6,416.4 L455.6,418.2 L454.6,415.4"/>
</g>
<g fill="#f8f8f8" stroke="none"><circle cx="436.4" cy="403.4" r="0.8"/><circle cx="441" cy="403.4" r="0.8"/><circle cx="447.2" cy="409.2" r="0.7"/><circle cx="452.2" cy="409.2" r="0.7"/></g>
<g fill="#9a9a9a" stroke="none"><circle cx="437.1" cy="402.4" r="0.8"/><circle cx="444.2" cy="402.4" r="0.8"/><circle cx="447.2" cy="408.6" r="0.7"/><circle cx="452.2" cy="408.6" r="0.7"/></g>
<text x="463.3" y="415.3" font-size="15.4" fill="#8a8a8a" stroke="#8a8a8a" stroke-width="0.9" textLength="74.5" lengthAdjust="spacingAndGlyphs">CSPFocus</text>
<text x="462.5" y="414.5" font-size="15.4" fill="#f7f7f7" textLength="74.5" lengthAdjust="spacingAndGlyphs">CSPFocus</text>
</svg></body></html>
